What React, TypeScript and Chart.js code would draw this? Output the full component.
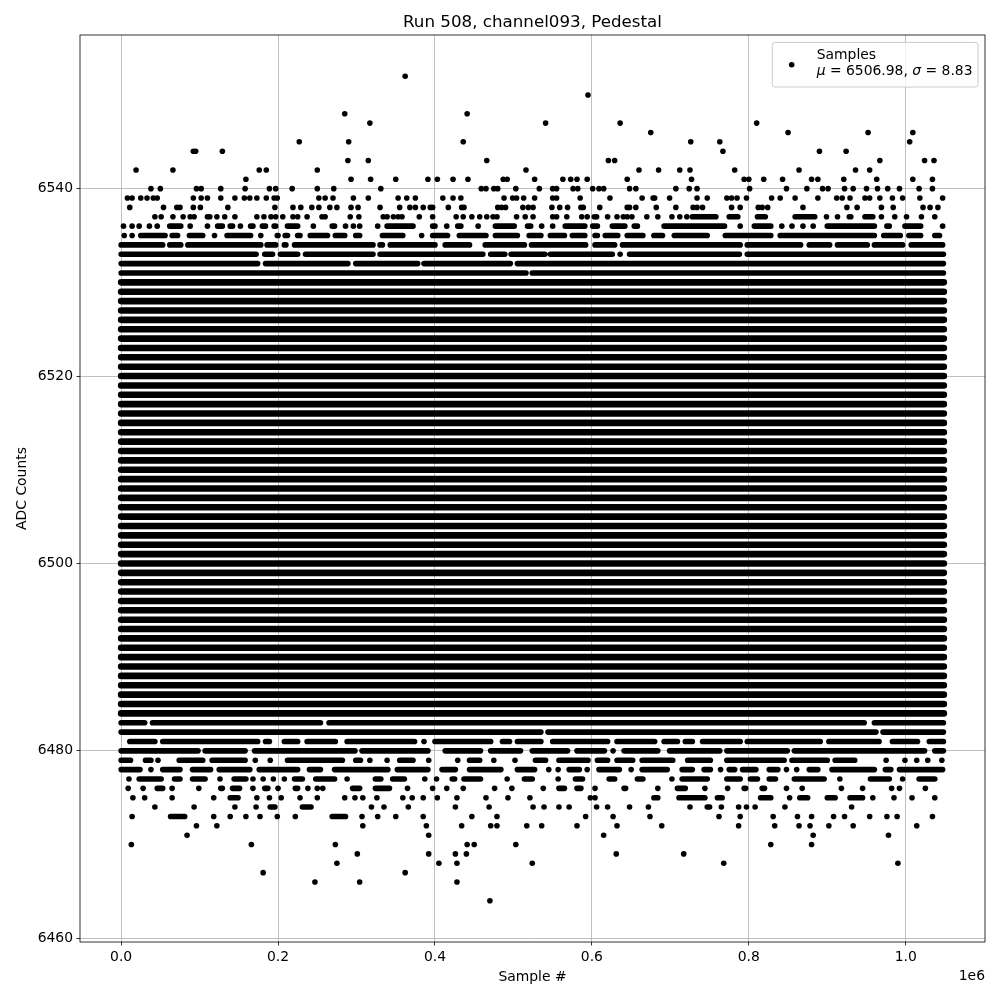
import { useEffect, useRef } from "react";
import { Chart, registerables } from "chart.js";

Chart.register(...registerables);

type Mark = number | [number, number];

// ---------- text ----------
const TITLE = "Run 508, channel093, Pedestal";
const X_LABEL = "Sample #";
const Y_LABEL = "ADC Counts";
const X_OFFSET_LABEL = "1e6";
const LEGEND_LABEL = "Samples";
const MEAN_VALUE = "6506.98";
const SIGMA_VALUE = "8.83";

// ---------- axes ----------
const xTickValues = [0.0, 0.2, 0.4, 0.6, 0.8, 1.0]; // x 1e6 samples
const yTickValues = [6460, 6480, 6500, 6520, 6540];

// ---------- data (x in thousands of samples, y in ADC counts) ----------
const sampleStart = 0;
const sampleEnd = 1048.575;

// ADC levels whose row of samples is filled end to end
const fullLevels = [
  6484, 6485, 6486, 6487, 6488, 6489, 6490, 6491, 6492, 6493, 6494, 6495, 6496,
  6497, 6498, 6499, 6500, 6501, 6502, 6503, 6504, 6505, 6506, 6507, 6508, 6509,
  6510, 6511, 6512, 6513, 6514, 6515, 6516, 6517, 6518, 6519, 6520, 6521, 6522,
  6523, 6524, 6525, 6526, 6527, 6528, 6529, 6530,
];

// partially filled / sparse levels: single samples or [first, last] runs
const r6552: Mark[] = [362];
const r6550: Mark[] = [595];
const r6548: Mark[] = [285, 441];
const r6547: Mark[] = [317, 541, 636, 810];
const r6546: Mark[] = [675, 850, 952, 1009];
const r6545: Mark[] = [227, 290, 436, 726, 763, 1005];
const r6544: Mark[] = [92, 95, 129, 767, 890, 924];
const r6543: Mark[] = [289, 315, 466, 621, 629, 967, 1024, 1036];
const r6542: Mark[] = [19, 66, 176, 185, 250, 516, 660, 685, 712, 725, 782, 864, 936, 954];
const r6541: Mark[] = [159, 293, 318, 350, 391, 403, 423, 442, 487, 492, 527, 563, 573, 581, 594, 645, 727, 794, 800, 819, 843, 880, 888, 921, 963, 1009, 1034];
const r6540: Mark[] = [38, 50, 96, 102, 127, 158, 189, 197, 218, 250, 271, 331, 459, 465, 475, 480, 503, 533, 550, 555, 576, 582, 601, 609, 615, 648, 656, 707, 724, 734, 801, 848, 874, 894, 901, 922, 933, 950, 964, 977, 992, 1017, 1034];
const r6539: Mark[] = [8, 14, 25, 33, 41, 46, 92, 102, 110, 127, 145, 157, 164, 173, 185, 195, 199, 252, 260, 270, 296, 315, 353, 364, 375, 410, 423, 433, 488, 499, 504, 513, 527, 550, 555, 585, 623, 664, 678, 680, 699, 734, 747, 772, 778, 785, 797, 829, 840, 859, 888, 912, 919, 929, 948, 954, 967, 983, 996, 1018, 1047];
const r6538: Mark[] = [11, 54, 71, 75, 92, 101, 136, 196, 219, 229, 243, 252, 266, 275, 293, 302, 330, 355, 368, 375, 385, 394, 397, 417, 434, 437, 480, 485, 490, 512, 519, 525, 549, 559, 569, 586, 589, 610, 645, 648, 656, 682, 707, 729, 734, 741, 778, 789, 812, 817, 824, 869, 925, 938, 969, 984, 1022, 1031, 1041];
const r6537: Mark[] = [43, 51, 66, 79, 88, 93, 110, 113, 122, 132, 145, 173, 182, 191, 197, 206, 219, 225, 237, 256, 260, 292, 303, 334, 339, 347, 353, 358, 380, 397, 427, 436, 447, 457, 466, 474, 479, 504, 515, 525, 550, 555, 568, 587, 594, 603, 606, 620, 632, 640, 645, 651, 670, 684, 702, 712, 721, [728, 758], [775, 786], [811, 821], [859, 884], 899, 913, [928, 930], [948, 958], 969, 986, 1001, 1020, 1037];
const r6536: Mark[] = [3, 14, 23, 36, 46, [62, 76], [88, 89], 110, [123, 129], [139, 142], 152, [165, 168], [180, 184], [195, 197], [212, 225], 245, [269, 272], 286, 296, 304, 327, [339, 372], [397, 400], 415, [429, 433], 455, [477, 501], [518, 522], 536, 550, [566, 591], [601, 607], [626, 642], [654, 658], [692, 769], 789, [807, 828], 842, 855, 869, 882, [900, 960], [976, 979], [999, 1019], 1047];
const r6535: Mark[] = [4, 14, [25, 56], [65, 72], [87, 104], 119, [135, 165], 178, [199, 200], [209, 212], [225, 228], [241, 263], [273, 285], [299, 304], [333, 359], 383, [397, 416], [431, 465], [477, 505], [520, 535], [547, 565], [575, 591], [604, 607], [617, 633], [645, 665], [679, 690], [705, 747], [770, 828], [840, 960], [972, 993], [1004, 1019], [1037, 1043]];
const r6534: Mark[] = [[0, 53], [62, 76], [85, 178], [186, 197], [208, 210], [221, 321], [330, 333], [343, 400], [413, 444], [464, 514], [523, 592], [604, 629], [639, 789], [798, 866], [877, 903], [913, 951], [960, 996], [1007, 1047]];
const r6533: Mark[] = [[0, 172], [183, 193], [203, 225], [235, 321], [330, 461], [471, 489], [497, 540], [547, 626], 636, [648, 788], [798, 1048]];
const r6532: Mark[] = [[0, 174], [184, 289], [299, 378], [386, 496], [505, 1048]];
const r6531: Mark[] = [[0, 516], [524, 1048]];
const r6483: Mark[] = [[0, 30], [40, 254], [265, 947], [960, 1048]];
const r6482: Mark[] = [[0, 535], [544, 962], [971, 1048]];
const r6481: Mark[] = [[11, 43], [53, 174], [184, 189], [208, 225], [237, 273], [288, 374], 386, [400, 471], [486, 495], [505, 535], [550, 620], [632, 680], [692, 709], [719, 728], [741, 789], [798, 891], [902, 966], [983, 1015], [1030, 1048]];
const r6480: Mark[] = [[0, 98], [107, 158], [170, 298], [307, 391], [413, 458], [471, 509], [524, 569], [581, 616], 627, [641, 684], [699, 763], [772, 849], [858, 1024], [1037, 1048]];
const r6479: Mark[] = [[0, 12], [31, 38], 47, [74, 104], [116, 158], 171, 190, [212, 282], [299, 305], 317, 339, [355, 372], 392, 429, [444, 457], 475, 502, [528, 541], [558, 595], [607, 620], [632, 652], [664, 703], [722, 751], [772, 845], [855, 900], [910, 935], 975, 999, 1014, 1028, 1046];
const r6478: Mark[] = [[0, 24], 38, [53, 75], [91, 114], [125, 164], [176, 225], [240, 254], [272, 340], [352, 391], [409, 426], [444, 484], [505, 527], 545, 557, [571, 584], 594, [609, 635], 650, [664, 696], [715, 728], [743, 751], 764, [775, 782], [792, 809], [826, 837], 848, 861, [877, 888], [906, 960], [974, 981], [992, 1047]];
const r6477: Mark[] = [10, [23, 51], [68, 75], [91, 107], 126, [144, 159], 168, 181, 194, 208, [221, 231], [248, 272], 288, [324, 331], [346, 361], 387, 402, [422, 425], [437, 458], 492, [514, 524], 557, [579, 588], [622, 629], [658, 665], 702, [715, 747], [772, 789], [802, 811], [826, 834], [858, 896], 916, [955, 979], 996, [1017, 1037]];
const r6476: Mark[] = [9, 28, [46, 53], 65, 99, [127, 129], [142, 151], 168, [183, 187], 200, [222, 225], 238, 250, 257, [295, 304], [324, 342], 365, 397, 415, 436, 476, 498, 538, [558, 565], [581, 586], [604, 605], [641, 643], 684, [709, 719], 744, 773, [794, 796], [817, 820], 848, 868, 918, 945, 982, 992, 1025];
const r6475: Mark[] = [15, 30, 65, 118, [139, 149], 173, 189, 204, 228, 250, 285, 298, 308, 326, 359, 371, 385, 403, 428, 465, 493, 521, 598, 604, [679, 684], [711, 744], [760, 766], [815, 828], 852, [865, 875], [900, 910], [929, 945], 958, 985, 1008, 1037];
const r6474: Mark[] = [43, 93, 145, 172, [190, 196], [231, 242], 319, 335, 366, 426, 469, 525, 539, 558, 571, 606, 620, 648, 672, 725, [747, 750], 765, 787, 797, 808, 846, 931];
const r6473: Mark[] = [14, [63, 81], 118, 139, 159, 177, 199, 222, [269, 286], 307, 327, 350, 385, 447, 479, 592, 627, 674, 762, 789, 831, 862, 880, 908, 922, 954, 976, 989, 1034];
const r6472: Mark[] = [96, 122, 308, 389, 434, 471, 479, 517, 536, 581, 632, 689, 787, 833, 864, 878, 902, 933, 1014];
const r6471: Mark[] = [84, 392, 615, 882, 978];
const r6470: Mark[] = [13, 166, 273, 441, 450, 503, 828, 880];
const r6469: Mark[] = [301, 392, 426, 440, 631, 717];
const r6468: Mark[] = [275, 405, 428, 524, 768, 990];
const r6467: Mark[] = [181, 362];
const r6466: Mark[] = [247, 304, 428];
const r6464: Mark[] = [470];

const partialRows: [number, Mark[]][] = [
  [6552, r6552], [6550, r6550], [6548, r6548], [6547, r6547], [6546, r6546],
  [6545, r6545], [6544, r6544], [6543, r6543], [6542, r6542], [6541, r6541],
  [6540, r6540], [6539, r6539], [6538, r6538], [6537, r6537], [6536, r6536],
  [6535, r6535], [6534, r6534], [6533, r6533], [6532, r6532], [6531, r6531],
  [6483, r6483], [6482, r6482], [6481, r6481], [6480, r6480], [6479, r6479],
  [6478, r6478], [6477, r6477], [6476, r6476], [6475, r6475], [6474, r6474],
  [6473, r6473], [6472, r6472], [6471, r6471], [6470, r6470], [6469, r6469],
  [6468, r6468], [6467, r6467], [6466, r6466], [6464, r6464],
];

const K = 1000; // thousands of samples -> samples
const FONT = "'DejaVu Sans', 'Liberation Sans', sans-serif";
const FS = 13.9;
const MARKER_R = 2.8;
const FULL_ROW_WIDTH = 6.6;

type P = { x: number; y: number | null };

function buildData() {
  const fullRuns: P[] = [];
  const runs: P[] = [];
  const dots: { x: number; y: number }[] = [];
  const addRun = (arr: P[], a: number, b: number, y: number) => {
    arr.push({ x: a * K, y }, { x: b * K, y }, { x: b * K, y: null });
  };
  for (const L of fullLevels) addRun(fullRuns, sampleStart, sampleEnd, L);
  for (const [L, marks] of partialRows) {
    for (const m of marks) {
      if (Array.isArray(m)) addRun(runs, m[0], m[1], L);
      else dots.push({ x: m * K, y: L });
    }
  }
  return { fullRuns, runs, dots };
}

function allLevels() {
  return [...fullLevels, ...partialRows.map((r) => r[0])];
}

const decor = {
  id: "decor",
  afterDraw(chart: any) {
    const { ctx, chartArea: a } = chart;
    ctx.save();
    ctx.strokeStyle = "#000";
    ctx.lineWidth = 0.8;
    ctx.strokeRect(a.left, a.top, a.right - a.left, a.bottom - a.top);

    const cx = (a.left + a.right) / 2;
    ctx.fillStyle = "#000";
    ctx.font = `16.7px ${FONT}`;
    ctx.textAlign = "center";
    ctx.textBaseline = "alphabetic";
    ctx.fillText(TITLE, cx, 27);
    ctx.font = `${FS}px ${FONT}`;
    ctx.fillText(X_LABEL, cx, 981);
    ctx.textAlign = "right";
    ctx.fillText(X_OFFSET_LABEL, a.right, 980);
    ctx.save();
    ctx.translate(26, (a.top + a.bottom) / 2);
    ctx.rotate(-Math.PI / 2);
    ctx.textAlign = "center";
    ctx.fillText(Y_LABEL, 0, 0);
    ctx.restore();

    // legend
    const normal = `${FS}px ${FONT}`;
    const italic = `italic ${FS}px ${FONT}`;
    const parts: [string, string][] = [
      ["\u03bc", italic],
      [` = ${MEAN_VALUE}, `, normal],
      ["\u03c3", italic],
      [` = ${SIGMA_VALUE}`, normal],
    ];
    let line2W = 0;
    for (const [t, f] of parts) {
      ctx.font = f;
      line2W += ctx.measureText(t).width;
    }
    ctx.font = normal;
    const line1W = ctx.measureText(LEGEND_LABEL).width;
    const textW = Math.max(line1W, line2W);
    const pad = 0.4 * FS;
    const handle = 2.0 * FS;
    const gap = 0.8 * FS;
    const w = pad + handle + gap + textW + pad;
    const h = 44.6;
    const bx = a.right - 0.5 * FS - w;
    const by = a.top + 0.5 * FS + 0.5;
    ctx.beginPath();
    if ((ctx as any).roundRect) (ctx as any).roundRect(bx, by, w, h, 2.8);
    else ctx.rect(bx, by, w, h);
    ctx.fillStyle = "rgba(255,255,255,0.8)";
    ctx.fill();
    ctx.strokeStyle = "#cccccc";
    ctx.lineWidth = 1;
    ctx.stroke();
    ctx.fillStyle = "#000";
    ctx.beginPath();
    ctx.arc(bx + pad + handle / 2, by + h / 2, MARKER_R, 0, Math.PI * 2);
    ctx.fill();
    const tx = bx + pad + handle + gap;
    ctx.textAlign = "left";
    ctx.textBaseline = "alphabetic";
    ctx.font = normal;
    ctx.fillText(LEGEND_LABEL, tx, by + 16.2);
    let px = tx;
    for (const [t, f] of parts) {
      ctx.font = f;
      ctx.fillText(t, px, by + 33);
      px += ctx.measureText(t).width;
    }
    ctx.restore();
  },
};

export default function App() {
  const ref = useRef<HTMLCanvasElement>(null);
  useEffect(() => {
    const canvas = ref.current;
    if (!canvas) return;
    const { fullRuns, runs, dots } = buildData();
    const levels = allLevels();
    const yLo = Math.min(...levels);
    const yHi = Math.max(...levels);
    const yM = (yHi - yLo) * 0.05;
    const xSpan = (sampleEnd - sampleStart) * K;
    const xM = xSpan * 0.05;

    const tickFont = { family: FONT, size: FS };
    const runStyle = {
      showLine: true,
      borderColor: "#000",
      backgroundColor: "#000",
      borderCapStyle: "round",
      pointRadius: 0,
      pointHoverRadius: 0,
      spanGaps: false,
      tension: 0,
    };
    const chart = new Chart(canvas, {
      type: "scatter",
      data: {
        datasets: [
          { label: "full", data: fullRuns as any, borderWidth: FULL_ROW_WIDTH, ...runStyle } as any,
          { label: "runs", data: runs as any, borderWidth: MARKER_R * 2, ...runStyle } as any,
          {
            label: LEGEND_LABEL,
            data: dots,
            pointRadius: MARKER_R,
            pointHoverRadius: MARKER_R,
            pointBorderWidth: 0,
            pointBackgroundColor: "#000",
            backgroundColor: "#000",
            borderColor: "#000",
          } as any,
        ],
      },
      options: {
        responsive: false,
        animation: false,
        devicePixelRatio: 1,
        events: [],
        layout: { padding: { top: 35, right: 15, left: 0, bottom: 0 } },
        plugins: {
          legend: { display: false },
          title: { display: false },
          tooltip: { enabled: false },
        },
        scales: {
          x: {
            type: "linear",
            min: sampleStart * K - xM,
            max: sampleEnd * K + xM,
            afterFit: (s: any) => {
              s.height = 58;
            },
            afterBuildTicks: (s: any) => {
              s.ticks = xTickValues.map((v) => ({ value: v * 1e6 }));
            },
            ticks: {
              font: tickFont,
              color: "#000",
              padding: 3.5,
              maxRotation: 0,
              autoSkip: false,
              callback: (v: any) => (Number(v) / 1e6).toFixed(1),
            },
            grid: {
              color: "#b0b0b0",
              lineWidth: 0.8,
              tickLength: 3.5,
              tickColor: "#000",
              tickWidth: 0.8,
            },
            border: { display: false },
          },
          y: {
            type: "linear",
            min: yLo - yM,
            max: yHi + yM,
            afterFit: (s: any) => {
              s.width = 80;
            },
            afterBuildTicks: (s: any) => {
              s.ticks = yTickValues.map((v) => ({ value: v }));
            },
            ticks: {
              font: tickFont,
              color: "#000",
              padding: 3.5,
              autoSkip: false,
              callback: (v: any) => String(v),
            },
            grid: {
              color: "#b0b0b0",
              lineWidth: 0.8,
              tickLength: 3.5,
              tickColor: "#000",
              tickWidth: 0.8,
            },
            border: { display: false },
          },
        },
      } as any,
      plugins: [decor],
    });
    return () => chart.destroy();
  }, []);

  return (
    <div style={{ position: "fixed", left: 0, top: 0, width: 1000, height: 1000, background: "#fff" }}>
      <canvas ref={ref} width={1000} height={1000} style={{ display: "block", width: 1000, height: 1000 }} />
    </div>
  );
}
